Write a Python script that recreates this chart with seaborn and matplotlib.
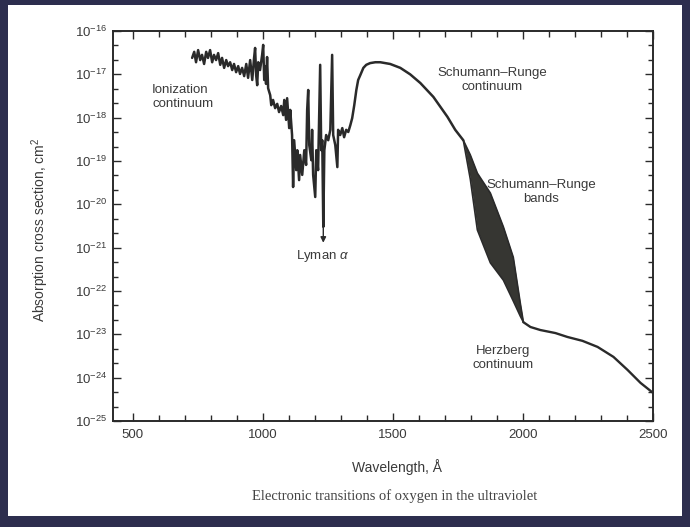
import numpy as np
import pandas as pd
import seaborn as sns
import matplotlib.pyplot as plt
from matplotlib.ticker import FixedLocator, LogFormatterSciNotation, MultipleLocator, NullFormatter

# O2 absorption cross section
# wavelength in Angstrom, log10 of cross section in cm^2
wl_main = [729, 737, 744, 752, 760, 767, 775, 783, 790, 798, 806, 813, 821, 829, 837,
           844, 852, 860, 867, 875, 883, 890, 898, 906, 913, 921, 929, 937, 944, 952,
           960, 967, 971, 975, 979, 983, 990, 998, 1002, 1006, 1010, 1013, 1017, 1021,
           1029, 1033, 1040, 1048, 1056, 1063, 1071, 1079, 1083, 1090, 1094, 1102, 1106,
           1113, 1117, 1121, 1129, 1133, 1140, 1144, 1152, 1160, 1167, 1171, 1175, 1179,
           1187, 1190, 1194, 1202, 1206, 1213, 1221, 1225, 1229, 1233, 1237, 1244, 1252,
           1260, 1267, 1271, 1279, 1287, 1290, 1298, 1306, 1313, 1321, 1329, 1337, 1344,
           1352, 1360, 1367, 1375, 1387, 1398, 1413, 1433, 1452, 1490, 1529, 1567, 1606,
           1656, 1710, 1740, 1771]
log_main = [-16.62, -16.48, -16.72, -16.44, -16.67, -16.55, -16.76, -16.48, -16.62, -16.44,
            -16.72, -16.55, -16.67, -16.51, -16.78, -16.62, -16.85, -16.67, -16.81, -16.72,
            -16.90, -16.76, -16.95, -16.81, -16.99, -16.85, -17.04, -16.76, -17.08, -16.67,
            -17.13, -16.62, -16.39, -17.02, -17.25, -16.72, -16.90, -16.55, -16.32, -17.13,
            -16.81, -17.22, -16.60, -17.32,
            -17.48, -17.71, -17.59, -17.78, -17.68, -17.87, -17.73, -17.94, -17.59, -18.05,
            -17.55, -18.24, -17.82, -18.40, -19.60, -18.52, -19.21, -18.75, -19.44, -18.86,
            -19.32, -18.75, -19.09, -17.82, -17.36, -18.63, -18.98, -18.28, -19.32, -19.83,
            -18.75, -19.21, -16.78, -18.75, -18.52, -20.52, -18.75, -18.40, -18.52, -18.28,
            -16.55, -18.40, -18.63, -19.14, -18.28, -18.40, -18.24, -18.45, -18.28, -18.33,
            -18.17, -18.01, -17.71, -17.36, -17.13, -17.02, -16.85, -16.78, -16.74, -16.72,
            -16.72, -16.76, -16.85, -17.00, -17.20, -17.52, -17.98, -18.28, -18.52]

# Schumann-Runge bands: upper and lower envelope
wl_bands = [1771, 1798, 1825, 1875, 1925, 1963, 1990, 2002]
log_bands_hi = [-18.52, -18.86, -19.28, -19.74, -20.52, -21.22, -22.28, -22.72]
log_bands_lo = [-18.52, -19.42, -20.59, -21.35, -21.75, -22.23, -22.58, -22.72]

# Herzberg continuum
wl_herz = [2002, 2029, 2067, 2125, 2171, 2229, 2287, 2348, 2402, 2452, 2500]
log_herz = [-22.72, -22.83, -22.90, -22.97, -23.06, -23.15, -23.29, -23.52, -23.82, -24.12, -24.35]

sns.set_style("ticks")
plt.rcParams['font.family'] = ['Liberation Sans', 'DejaVu Sans']
plt.rcParams['mathtext.fontset'] = 'custom'
plt.rcParams['mathtext.rm'] = 'Liberation Sans'
plt.rcParams['mathtext.it'] = 'Liberation Sans:italic'

ink = '#2a2a2a'
txt = '#3a3a3a'

fig = plt.figure(figsize=(6.9, 5.27), dpi=100, facecolor='#2d2e4e')
fig.add_artist(plt.Rectangle((0.0116, 0.021), 0.9768, 0.9695, transform=fig.transFigure,
                             facecolor='white', edgecolor='none', zorder=0))
ax = fig.add_axes([0.1638, 0.2011, 0.7826, 0.7400])
ax.set_facecolor('white')

main = pd.DataFrame({'wl': wl_main, 'sigma': 10.0 ** np.array(log_main)})
bands = pd.DataFrame({'wl': wl_bands,
                      'hi': 10.0 ** np.array(log_bands_hi),
                      'lo': 10.0 ** np.array(log_bands_lo)})
herz = pd.DataFrame({'wl': wl_herz, 'sigma': 10.0 ** np.array(log_herz)})

sns.lineplot(data=main, x='wl', y='sigma', ax=ax, color=ink, lw=1.8, estimator=None)
ax.fill_between(bands['wl'], bands['lo'], bands['hi'], color='#363632', lw=0)
sns.lineplot(data=bands, x='wl', y='hi', ax=ax, color=ink, lw=1.2, estimator=None)
sns.lineplot(data=bands, x='wl', y='lo', ax=ax, color=ink, lw=1.2, estimator=None)
sns.lineplot(data=herz, x='wl', y='sigma', ax=ax, color=ink, lw=1.7, estimator=None)

ax.set_yscale('log')
ax.set_xlim(425, 2500)
ax.set_ylim(1e-25, 1e-16)

decades = np.arange(-25, -15)
ax.yaxis.set_major_locator(FixedLocator(10.0 ** decades))
ax.yaxis.set_major_formatter(LogFormatterSciNotation())
ax.yaxis.set_minor_locator(FixedLocator(np.concatenate([10.0 ** (decades[:-1] + 1 / 3),
                                                        10.0 ** (decades[:-1] + 2 / 3)])))
ax.yaxis.set_minor_formatter(NullFormatter())
ax.set_xticks([500, 1000, 1500, 2000, 2500])
ax.xaxis.set_minor_locator(MultipleLocator(100))

ax.tick_params(which='both', direction='in', top=True, right=True, colors=ink,
               labelcolor=txt, labelsize=9.5, width=1)
ax.tick_params(axis='x', which='major', length=6, pad=6)
ax.tick_params(axis='x', which='minor', length=4)
ax.tick_params(axis='y', which='major', length=6, pad=4)
ax.tick_params(axis='y', which='minor', length=3.5)
for sp in ax.spines.values():
    sp.set_color(ink)
    sp.set_linewidth(1.4)

ax.set_xlabel('Wavelength, Å', fontsize=10, color=txt)
ax.set_ylabel('Absorption cross section, cm$^2$', fontsize=10, color=txt)
ax.xaxis.set_label_coords(0.526, -0.097)
ax.yaxis.set_label_coords(-0.115, 0.49)

lab = dict(fontsize=9.5, color=txt, linespacing=1.25)
ax.text(575, 10 ** -17.52, 'Ionization\ncontinuum', ha='left', va='center', **lab)
ax.text(1883, 10 ** -17.13, 'Schumann\u2013Runge\ncontinuum', ha='center', va='center', **lab)
ax.text(2071, 10 ** -19.72, 'Schumann\u2013Runge\nbands', ha='center', va='center', **lab)
ax.text(1925, 10 ** -23.55, 'Herzberg\ncontinuum', ha='center', va='center', **lab)
ax.annotate('', xy=(1233, 10 ** -20.95), xytext=(1233, 10 ** -20.45),
            arrowprops=dict(arrowstyle='-|>', color=ink, lw=1, mutation_scale=8))
ax.text(1229, 10 ** -21.2, 'Lyman $\\alpha$', ha='center', va='center', **lab)

fig.text(0.572, 1 - 496 / 527, 'Electronic transitions of oxygen in the ultraviolet',
         ha='center', va='center', fontsize=10.5, color='#444444',
         family=['Liberation Serif', 'DejaVu Serif'])

fig.savefig('out.png', dpi=100, facecolor=fig.get_facecolor())
